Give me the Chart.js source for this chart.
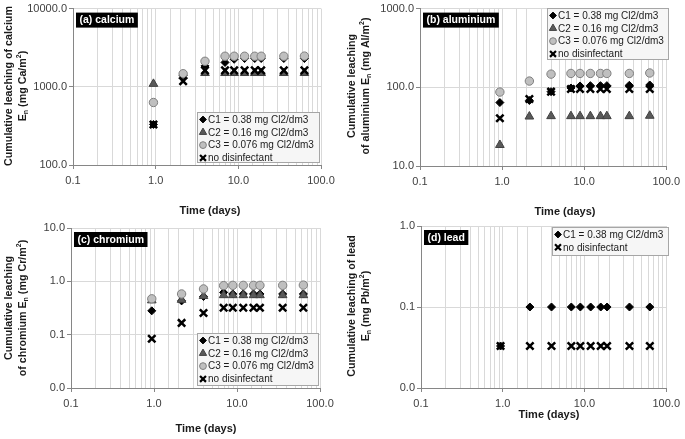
<!DOCTYPE html>
<html>
<head>
<meta charset="utf-8">
<script src="https://cdn.jsdelivr.net/npm/chart.js@4.4.0/dist/chart.umd.min.js"></script>
<style>
  body { margin: 0; background: #fff; }
  #wrap { position: relative; width: 685px; height: 439px; overflow: hidden; }
  canvas { position: absolute; }
</style>
</head>
<body>
<div id="wrap">
  <canvas id="chartA" width="340" height="220" style="left:0;top:0;width:340px;height:220px"></canvas>
  <canvas id="chartB" width="345" height="220" style="left:340px;top:0;width:345px;height:220px"></canvas>
  <canvas id="chartC" width="340" height="224" style="left:0;top:215px;width:340px;height:224px"></canvas>
  <canvas id="chartD" width="345" height="224" style="left:340px;top:215px;width:345px;height:224px"></canvas>
</div>
<script>
// Sampling times (days)
const days = [0.94, 2.15, 3.95, 6.9, 8.9, 11.9, 15.8, 18.9, 35.5, 63];

const seriesNames = ["C1 = 0.38 mg Cl2/dm3", "C2 = 0.16 mg Cl2/dm3", "C3 = 0.076 mg Cl2/dm3", "no disinfectant"];

// (a) calcium, mg Ca/m2
const caC1 = [330, 1400, 1850, 2050, 2250, 2300, 2300, 2300, 2300, 2300];
const caC2 = [1090, 1380, 1500, 1500, 1500, 1500, 1500, 1500, 1500, 1500];
const caC3 = [630, 1470, 2120, 2460, 2460, 2460, 2460, 2460, 2460, 2470];
const caNone = [330, 1180, 1620, 1620, 1620, 1620, 1620, 1620, 1620, 1620];

// (b) aluminium, mg Al/m2
const alC1 = [64, 68, 88, 98, 104, 105, 105, 105, 106, 107];
const alC2 = [18.5, 42.5, 43, 43, 43, 43, 43, 43, 43, 43.5];
const alC3 = [87, 120, 147, 150, 150, 150, 150, 150, 150, 152];
const alNone = [40.5, 71, 88, 95, 95, 95, 95, 95, 95, 95];

// (c) chromium, mg Cr/m2
const crC1 = [0.28, 0.43, 0.52, 0.62, 0.58, 0.58, 0.58, 0.58, 0.58, 0.58];
const crC2 = [0.44, 0.45, 0.53, 0.55, 0.55, 0.55, 0.55, 0.55, 0.55, 0.55];
const crC3 = [0.47, 0.58, 0.72, 0.83, 0.84, 0.84, 0.84, 0.84, 0.84, 0.85];
const crNone = [0.084, 0.166, 0.255, 0.32, 0.32, 0.32, 0.32, 0.32, 0.32, 0.32];

// (d) lead, mg Pb/m2
const pbC1 = [0.033, 0.1, 0.1, 0.1, 0.1, 0.1, 0.1, 0.1, 0.1, 0.1];
const pbNone = [0.033, 0.033, 0.033, 0.033, 0.033, 0.033, 0.033, 0.033, 0.033, 0.033];

const xTicks = [0.1, 1, 10, 100];

const FONT = '"Liberation Sans", Arial, Helvetica, sans-serif';

// marker look per series
const markerStyles = [
  { pointStyle: "rectRot", radius: 4, backgroundColor: "#000000", borderColor: "#000000", borderWidth: 1, order: 4 },
  { pointStyle: "triangle", radius: 5, backgroundColor: "#595959", borderColor: "#404040", borderWidth: 1, order: 3 },
  { pointStyle: "circle", radius: 4.2, backgroundColor: "#bfbfbf", borderColor: "#7f7f7f", borderWidth: 1, order: 2 },
  { pointStyle: "crossRot", radius: 5.2, backgroundColor: "#000000", borderColor: "#000000", borderWidth: 2.5, order: 1 },
];

function isMajor(v) {
  const l = Math.log10(v);
  return Math.abs(l - Math.round(l)) < 1e-6;
}

function makeDataset(styleIndex, values) {
  const st = markerStyles[styleIndex];
  return {
    label: seriesNames[styleIndex],
    data: days.map((d, i) => ({ x: d, y: values[i] })),
    pointStyle: st.pointStyle,
    pointRadius: st.radius,
    pointHoverRadius: st.radius,
    pointBackgroundColor: st.backgroundColor,
    pointBorderColor: st.borderColor,
    pointBorderWidth: st.borderWidth,
    backgroundColor: st.backgroundColor,
    borderColor: st.borderColor,
    borderWidth: st.borderWidth,
    order: st.order,
    showLine: false,
  };
}

// draw a line of text made of parts, some of them sub/superscript
function drawRich(ctx, parts, cx, cy, size) {
  const big = "bold " + size + "px " + FONT;
  const small = "bold " + Math.round(size * 0.68) + "px " + FONT;
  let total = 0;
  const widths = parts.map((p) => {
    ctx.font = typeof p === "string" ? big : small;
    const w = ctx.measureText(typeof p === "string" ? p : p.t).width;
    total += w;
    return w;
  });
  let x = cx - total / 2;
  ctx.textAlign = "left";
  ctx.textBaseline = "middle";
  parts.forEach((p, i) => {
    if (typeof p === "string") {
      ctx.font = big;
      ctx.fillText(p, x, cy);
    } else {
      ctx.font = small;
      const dy = p.sub ? size * 0.32 : -size * 0.36;
      ctx.fillText(p.t, x, cy + dy);
    }
    x += widths[i];
  });
}

// plugin: axis titles, panel tag and boxed legend
const decorPlugin = {
  id: "decor",
  afterDraw(chart, args, opts) {
    const ctx = chart.ctx;
    ctx.save();
    ctx.fillStyle = "#1a1a1a";

    // rotated y title lines
    opts.yTitle.forEach((line, i) => {
      ctx.save();
      ctx.translate(opts.yTitleX[i], opts.yTitleY);
      ctx.rotate(-Math.PI / 2);
      drawRich(ctx, line, 0, 0, 10.7);
      ctx.restore();
    });

    // x title
    ctx.font = "bold 11px " + FONT;
    ctx.textAlign = "center";
    ctx.textBaseline = "middle";
    ctx.fillText("Time (days)", opts.xTitle[0], opts.xTitle[1]);

    // panel tag
    const area = chart.chartArea;
    ctx.font = "bold 10.5px " + FONT;
    const tw = ctx.measureText(opts.tag).width;
    ctx.fillStyle = "#000000";
    ctx.fillRect(area.left + 3, area.top + 4, tw + 7, 15);
    ctx.fillStyle = "#ffffff";
    ctx.textAlign = "left";
    ctx.fillText(opts.tag, area.left + 6.5, area.top + 12);

    // legend box
    const lg = opts.legend;
    ctx.fillStyle = "#f6f6f6";
    ctx.fillRect(lg.x, lg.y, lg.w, lg.h);
    ctx.strokeStyle = "#a6a6a6";
    ctx.lineWidth = 1;
    ctx.strokeRect(lg.x + 0.5, lg.y + 0.5, lg.w - 1, lg.h - 1);
    ctx.font = "10px " + FONT;
    ctx.textBaseline = "middle";
    chart.data.datasets.forEach((ds, i) => {
      const y = lg.y + 7.5 + i * 12.8;
      ctx.fillStyle = ds.pointBackgroundColor;
      ctx.strokeStyle = ds.pointBorderColor;
      ctx.lineWidth = ds.pointStyle === "crossRot" ? 2.2 : 1;
      Chart.helpers.drawPoint(ctx, {
        pointStyle: ds.pointStyle,
        radius: ds.pointStyle === "crossRot" ? 4.2 : ds.pointStyle === "triangle" ? 4.2 : 3.4,
        borderWidth: ctx.lineWidth,
        rotation: 0,
      }, lg.x + 6, y);
      ctx.fillStyle = "#1a1a1a";
      ctx.fillText(ds.label, lg.x + 11, y + 0.5);
    });
    ctx.restore();
  },
};

function renderPanel(id, cfg) {
  const gridColor = "#d9d9d9";
  const axisColor = "#868686";
  new Chart(document.getElementById(id), {
    type: "scatter",
    data: { datasets: cfg.datasets },
    plugins: [decorPlugin],
    options: {
      responsive: false,
      animation: false,
      layout: { padding: { top: cfg.pad[0], right: cfg.pad[1], bottom: 0, left: 0 } },
      plugins: {
        legend: { display: false },
        tooltip: { enabled: false },
        decor: cfg.decor,
      },
      scales: {
        x: {
          type: "logarithmic",
          min: xTicks[0],
          max: xTicks[xTicks.length - 1],
          afterFit: (s) => { s.height = cfg.xh; },
          grid: {
            color: gridColor,
            tickLength: 4,
            tickColor: (c) => (c.tick && isMajor(c.tick.value) ? axisColor : "rgba(0,0,0,0)"),
          },
          border: { color: axisColor },
          ticks: {
            autoSkip: false,
            maxRotation: 0,
            padding: 5,
            color: "#404040",
            font: { family: FONT, size: 11 },
            callback: (v) => (isMajor(v) ? Number(v).toFixed(1) : ""),
          },
        },
        y: {
          type: "logarithmic",
          min: cfg.yMin,
          max: cfg.yMax,
          afterBuildTicks: (s) => { s.ticks = s.ticks.filter((t) => isMajor(t.value)); },
          afterFit: (s) => { s.width = cfg.yw; },
          grid: { color: gridColor, tickLength: 4, tickColor: axisColor },
          border: { color: axisColor },
          ticks: {
            padding: 2,
            color: "#404040",
            font: { family: FONT, size: 11 },
            callback: (v) => Number(v).toFixed(1),
          },
        },
      },
    },
  });
}

renderPanel("chartA", {
  datasets: [makeDataset(0, caC1), makeDataset(1, caC2), makeDataset(2, caC3), makeDataset(3, caNone)],
  yMin: 100, yMax: 10000,
  pad: [7, 19], yw: 73, xh: 55,
  decor: {
    yTitle: [["Cumulative leaching of calcium"], ["E", { t: "n", sub: true }, " (mg Ca/m", { t: "2" }, ")"]],
    yTitleX: [9, 23], yTitleY: 86,
    xTitle: [210, 211],
    tag: "(a) calcium",
    legend: { x: 197, y: 112, w: 123, h: 51 },
  },
});

renderPanel("chartB", {
  datasets: [makeDataset(0, alC1), makeDataset(1, alC2), makeDataset(2, alC3), makeDataset(3, alNone)],
  yMin: 10, yMax: 1000,
  pad: [7, 16], yw: 80, xh: 54,
  decor: {
    yTitle: [["Cumulative leaching"], ["of aluminium E", { t: "n", sub: true }, " (mg Al/m", { t: "2" }, ")"]],
    yTitleX: [12, 26], yTitleY: 86,
    xTitle: [225, 212],
    tag: "(b) aluminium",
    legend: { x: 207, y: 8, w: 122, h: 52 },
  },
});

renderPanel("chartC", {
  datasets: [makeDataset(0, crC1), makeDataset(1, crC2), makeDataset(2, crC3), makeDataset(3, crNone)],
  yMin: 0.01, yMax: 10,
  pad: [13, 20], yw: 71, xh: 51,
  decor: {
    yTitle: [["Cumulative leaching"], ["of chromium E", { t: "n", sub: true }, " (mg Cr/m", { t: "2" }, ")"]],
    yTitleX: [9, 23], yTitleY: 93,
    xTitle: [206, 214],
    tag: "(c) chromium",
    legend: { x: 197, y: 118, w: 122, h: 53 },
  },
});

renderPanel("chartD", {
  datasets: [makeDataset(0, pbC1), makeDataset(3, pbNone)],
  yMin: 0.01, yMax: 1,
  pad: [11, 16], yw: 81, xh: 51,
  decor: {
    yTitle: [["Cumulative leaching of lead"], ["E", { t: "n", sub: true }, " (mg Pb/m", { t: "2" }, ")"]],
    yTitleX: [12, 26], yTitleY: 91,
    xTitle: [209, 200],
    tag: "(d) lead",
    legend: { x: 212, y: 12, w: 117, h: 29 },
  },
});
</script>
</body>
</html>
